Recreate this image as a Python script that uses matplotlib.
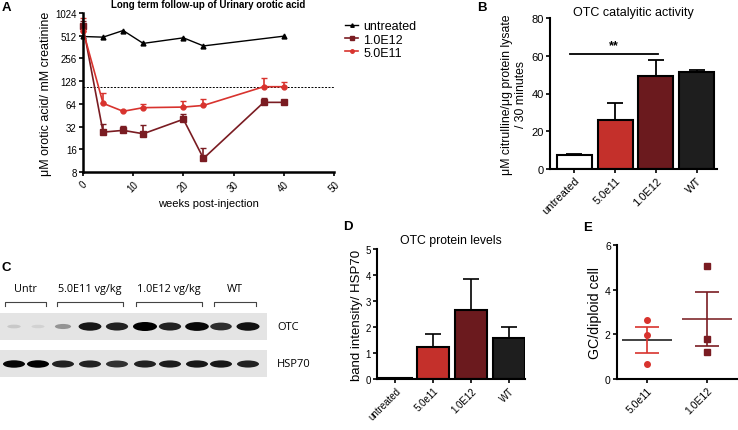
import matplotlib
matplotlib.use("Agg")
from matplotlib import pyplot as plt
from matplotlib.patches import Ellipse, Rectangle
from matplotlib.lines import Line2D
import numpy as np

plt.rcParams['font.family'] = ['Liberation Sans', 'DejaVu Sans']

W, H = 738, 431

# panel A: urinary orotic acid (log2 scale)
weeks = [0, 4, 8, 12, 20, 24, 40]
untreated_a = [500, 490, 600, 405, 480, 375, 505]
weeks_t = [0, 4, 8, 12, 20, 24, 36, 40]
dose_hi = [690, 27, 28.5, 25.7, 40, 12.1, 67, 67]
dose_hi_err = [120, 8, 4.5, 7.5, 7, 4.4, 10, 2]
dose_lo = [600, 65, 51, 57, 58, 61, 108, 108]
dose_lo_err = [270, 24, 1.5, 6, 11, 14, 31, 16]
normal_level = 107

# panel B: OTC activity
groups = ['untreated', '5.0e11', '1.0E12', 'WT']
activity = [7.2, 26, 49.5, 51.5]
activity_err = [0.6, 9, 8, 1]

# panel D: OTC protein levels
protein = [0.03, 1.22, 2.67, 1.58]
protein_err = [0.0, 0.53, 1.16, 0.42]

# panel E: GC/diploid cell
e_groups = ['5.0e11', '1.0E12']
gc_lo = [2.65, 1.95, 0.68]
gc_hi = [5.05, 1.8, 1.2]

# panel C: blot band intensities (0..1)
lane_labels = ['Untr', '5.0E11 vg/kg', '1.0E12 vg/kg', 'WT']
otc_bands = [0.12, 0.08, 0.35, 0.9, 0.85, 1.0, 0.85, 0.97, 0.8, 0.92]
hsp_bands = [0.97, 1.0, 0.85, 0.85, 0.78, 0.85, 0.88, 0.9, 0.9, 0.85]

bar_cols = ['white', '#c4302b', '#6b1a1e', '#1e1e1e']
red = '#d8332e'
dred = '#7a1c22'


def ax_px(x1, y1, x2, y2):
    return fig.add_axes([x1 / W, 1 - y2 / H, (x2 - x1) / W, (y2 - y1) / H])


def style(ax, lw=1.5, size=8):
    for s in ['top', 'right']:
        ax.spines[s].set_visible(False)
    for s in ['left', 'bottom']:
        ax.spines[s].set_linewidth(lw)
    ax.tick_params(width=1.2, length=3, labelsize=size, pad=1.5)


fig = plt.figure(figsize=(W / 100, H / 100), dpi=100)

# ---------- A
axA = ax_px(83, 14, 334, 173)
axA.set_yscale('log', base=2)
axA.set_ylim(8, 1024)
axA.set_xlim(0, 50)
axA.set_yticks([8, 16, 32, 64, 128, 256, 512, 1024])
axA.set_yticklabels(['8', '16', '32', '64', '128', '256', '512', '1024'])
axA.set_xticks([0, 10, 20, 30, 40, 50])
axA.minorticks_off()
style(axA, 1.8, 7)
plt.setp(axA.get_xticklabels(), rotation=45, ha='center', va='top')
axA.axhline(normal_level, color='black', ls=(0, (2, 1.5)), lw=0.7)
axA.plot(weeks, untreated_a, color='black', marker='^', ms=3.5, lw=1, clip_on=False)
axA.errorbar(weeks_t, dose_hi, yerr=[np.zeros(len(dose_hi)), dose_hi_err], color=dred, marker='s',
             ms=4, lw=1.2, capsize=2.5, elinewidth=1.2, clip_on=False)
axA.errorbar(weeks_t, dose_lo, yerr=[np.zeros(len(dose_lo)), dose_lo_err], color=red, marker='o',
             ms=3.5, lw=1.2, capsize=2.5, elinewidth=1.2, clip_on=False)
axA.set_title('Long term follow-up of Urinary orotic acid', fontsize=7, fontweight='bold', pad=4)
axA.set_ylabel('μM orotic acid/ mM creatinine', fontsize=9, labelpad=2)
axA.set_xlabel('weeks post-injection', fontsize=8, labelpad=4)
handles = [Line2D([], [], color='black', marker='^', ms=2.5, lw=1),
           Line2D([], [], color=dred, marker='s', ms=3, lw=1.2),
           Line2D([], [], color=red, marker='o', ms=2.5, lw=1.2)]
fig.legend(handles, ['untreated', '1.0E12', '5.0E11'], loc='upper left',
           bbox_to_anchor=(339 / W, 1 - 15 / H), frameon=False,
           fontsize=9, handlelength=1.0, handletextpad=0.45, labelspacing=0.1, borderpad=0)

# ---------- B
axB = ax_px(550, 19, 717, 170)
xb = np.arange(len(groups))
axB.bar(xb, activity, width=0.86, color=bar_cols, edgecolor='black', lw=1.5,
        yerr=[np.zeros(4), activity_err], capsize=6, error_kw=dict(elinewidth=1.3, capthick=1.3))
axB.set_xlim(-0.6, 3.5)
axB.set_ylim(0, 80)
axB.set_yticks([0, 20, 40, 60, 80])
axB.set_xticks(xb)
axB.set_xticklabels(groups, rotation=45, ha='right', rotation_mode='anchor')
style(axB, 1.5, 8)
axB.plot([-0.1, 2.05], [61, 61], color='black', lw=1.3, clip_on=False)
axB.text(0.97, 62.5, '**', ha='center', va='bottom', fontsize=9, fontweight='bold')
axB.set_title('OTC catalyitic activity', fontsize=9, pad=2)
axB.set_ylabel('μM citrulline/μg protein lysate\n/ 30 minutes', fontsize=8.8, labelpad=3)

# ---------- D
axD = ax_px(377, 250, 525, 380)
axD.bar(xb, protein, width=0.86, color=bar_cols, edgecolor='black', lw=1.5,
        yerr=[np.zeros(4), protein_err], capsize=6, error_kw=dict(elinewidth=1.2, capthick=1.2))
axD.set_xlim(-0.49, 3.43)
axD.set_ylim(0, 5)
axD.set_yticks([0, 1, 2, 3, 4, 5])
axD.set_xticks(xb)
axD.set_xticklabels(groups, rotation=45, ha='right', rotation_mode='anchor')
style(axD, 1.5, 7)
axD.set_title('OTC protein levels', fontsize=8.8, pad=4)
axD.set_ylabel('band intensity/ HSP70', fontsize=9.5, labelpad=2)

# ---------- E
axE = ax_px(617, 246, 737, 380)
axE.set_xlim(-0.5, 1.5)
axE.set_ylim(0, 6)
axE.set_yticks([0, 2, 4, 6])
axE.set_xticks([0, 1])
axE.set_xticklabels(e_groups, rotation=45, ha='right', rotation_mode='anchor')
style(axE, 1.5, 7.5)
for i, (vals, c, mk, mc) in enumerate([(gc_lo, red, 'o', '#333333'), (gc_hi, dred, 's', '#8a3a3e')]):
    v = np.array(vals)
    m = v.mean()
    se = v.std(ddof=1) / np.sqrt(len(v))
    axE.plot(np.full(len(v), i), v, ls='none', marker=mk, color=c, ms=4)
    axE.hlines(m, i - 0.42, i + 0.42, color=mc, lw=1.3)
    axE.vlines(i, m - se, m + se, color=c, lw=1.2)
    axE.hlines([m - se, m + se], i - 0.2, i + 0.2, color=c, lw=1.2)
axE.set_ylabel('GC/diploid cell', fontsize=10.2, labelpad=2)

# ---------- C (blot) + panel letters, drawn in pixel coords
axC = fig.add_axes([0, 0, 1, 1])
axC.set_xlim(0, W)
axC.set_ylim(H, 0)
axC.axis('off')
lane_x = [14, 38, 63, 90, 117, 145, 170, 197, 221, 248]
axC.add_patch(Rectangle((0, 314), 267, 27, color='#e4e4e4', lw=0))
axC.add_patch(Rectangle((0, 351), 267, 27, color='#e4e4e4', lw=0))
for x, a in zip(lane_x, otc_bands):
    axC.add_patch(Ellipse((x, 327.5), 12 + 12 * a, 3 + 6 * a, color='black', alpha=a, lw=0))
for x, a in zip(lane_x, hsp_bands):
    axC.add_patch(Ellipse((x, 365), 22, 5 + 2.5 * a, color='black', alpha=a, lw=0))
brackets = [(5, 46), (57, 123), (136, 202), (214, 256)]
blot_font = ['Open Sans', 'DejaVu Sans']
for (b1, b2), lab in zip(brackets, lane_labels):
    axC.plot([b1, b1, b2, b2], [307, 303, 303, 307], color='#444444', lw=0.8)
    axC.text((b1 + b2) / 2, 295, lab, ha='center', va='bottom', fontsize=7.8, family=blot_font)
axC.text(277, 328, 'OTC', va='center', fontsize=8, family=blot_font)
axC.text(277, 365, 'HSP70', va='center', fontsize=8, family=blot_font)

for lab, x, y in [('A', 2, 8), ('B', 477, 8), ('C', 2, 268), ('D', 343, 227), ('E', 583, 228)]:
    axC.text(x, y, lab, fontsize=9.5, fontweight='bold', va='center')

fig.savefig('out.png', dpi=100)
